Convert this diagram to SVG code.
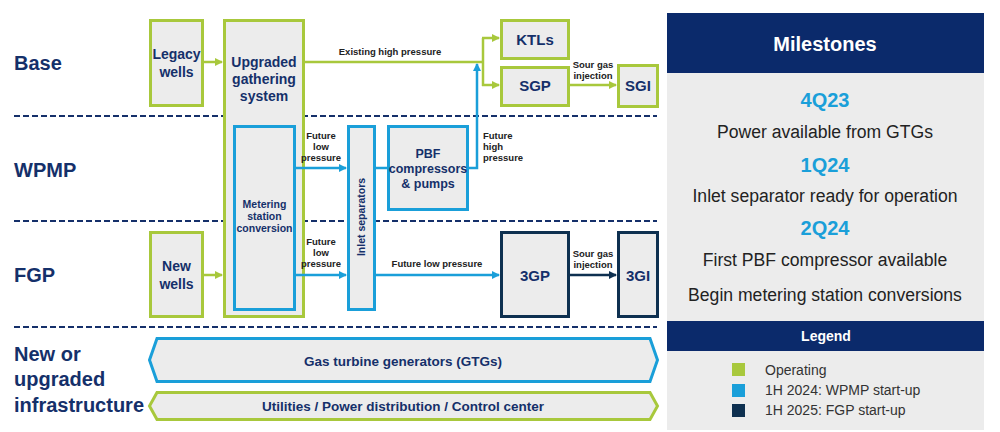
<svg xmlns="http://www.w3.org/2000/svg" width="1000" height="432" viewBox="0 0 1000 432">
<style>
text{font-family:"Liberation Sans",Arial,sans-serif}
.row{font-size:20px;font-weight:bold;fill:#15306a}
.nt{font-weight:bold;fill:#15306a;text-anchor:middle}
.lb{font-size:9.5px;font-weight:bold;fill:#222;text-anchor:middle}
.ls{font-size:9.5px;font-weight:bold;fill:#222}
.g{fill:#ececec;stroke:#a8c83c;stroke-width:3}
.b{fill:#ececec;stroke:#1a9fd9;stroke-width:3}
.d{fill:#ececec;stroke:#0e3050;stroke-width:3}
.sep{stroke:#15306a;stroke-width:2;stroke-dasharray:6 3;fill:none}
.cg{stroke:#a8c83c;stroke-width:2.5;fill:none}
.cb{stroke:#1a9fd9;stroke-width:2.5;fill:none}
.cd{stroke:#0e3050;stroke-width:2.5;fill:none}
.ms{font-size:20px;font-weight:bold;fill:#1a9fd9;text-anchor:middle}
.mt{font-size:17.6px;fill:#222;text-anchor:middle}
.lg{font-size:14px;fill:#333}
</style>
<defs>
<marker id="ag" markerWidth="8" markerHeight="8" refX="7" refY="4" orient="auto" markerUnits="userSpaceOnUse"><path d="M0,0 L8,4 L0,8 Z" fill="#a8c83c"/></marker>
<marker id="ab" markerWidth="8" markerHeight="8" refX="7" refY="4" orient="auto" markerUnits="userSpaceOnUse"><path d="M0,0 L8,4 L0,8 Z" fill="#1a9fd9"/></marker>
<marker id="ad" markerWidth="8" markerHeight="8" refX="7" refY="4" orient="auto" markerUnits="userSpaceOnUse"><path d="M0,0 L8,4 L0,8 Z" fill="#0e3050"/></marker>
</defs>
<rect width="1000" height="432" fill="#ffffff"/>

<g id="separators">
<line class="sep" x1="14" y1="116" x2="657" y2="116"/>
<line class="sep" x1="14" y1="221" x2="657" y2="221"/>
<line class="sep" x1="14" y1="327" x2="657" y2="327"/>
</g>

<g id="row-labels">
<text class="row" x="14" y="70">Base</text>
<text class="row" x="14" y="177">WPMP</text>
<text class="row" x="14" y="282">FGP</text>
<text class="row" x="14" y="361">New or</text>
<text class="row" x="14" y="386">upgraded</text>
<text class="row" x="14" y="412">infrastructure</text>
</g>

<g id="legacy-wells">
<rect class="g" x="150.5" y="20.5" width="52" height="85"/>
<text class="nt" font-size="14" x="176.5" y="59">Legacy</text>
<text class="nt" font-size="14" x="176.5" y="77">wells</text>
</g>

<g id="upgraded-gathering">
<rect class="g" x="224.5" y="20.5" width="79" height="296"/>
<text class="nt" font-size="14" x="264" y="67">Upgraded</text>
<text class="nt" font-size="14" x="264" y="84">gathering</text>
<text class="nt" font-size="14" x="264" y="101">system</text>
</g>

<g id="metering-station">
<rect class="b" x="234.5" y="126.5" width="60" height="183"/>
<text class="nt" font-size="10.5" x="264.5" y="208">Metering</text>
<text class="nt" font-size="10.5" x="264.5" y="220">station</text>
<text class="nt" font-size="10.5" x="264.5" y="232">conversion</text>
</g>

<g id="new-wells">
<rect class="g" x="150.5" y="232.5" width="52" height="84"/>
<text class="nt" font-size="14" x="176.5" y="271">New</text>
<text class="nt" font-size="14" x="176.5" y="289">wells</text>
</g>

<g id="inlet-separators">
<rect class="b" x="348.5" y="126.5" width="26" height="183"/>
<text class="nt" font-size="10.5" transform="translate(365,217) rotate(-90)">Inlet separators</text>
</g>

<g id="pbf">
<rect class="b" x="388.5" y="126.5" width="79" height="83"/>
<text class="nt" font-size="12.5" x="428" y="158">PBF</text>
<text class="nt" font-size="12.5" x="428" y="173">compressors</text>
<text class="nt" font-size="12.5" x="428" y="188">&amp; pumps</text>
</g>

<g id="ktls">
<rect class="g" x="501.5" y="20.5" width="67" height="38"/>
<text class="nt" font-size="15" x="535" y="45">KTLs</text>
</g>

<g id="sgp">
<rect class="g" x="501.5" y="67.5" width="67" height="38"/>
<text class="nt" font-size="15" x="535" y="91">SGP</text>
</g>

<g id="sgi">
<rect class="g" x="618.5" y="65.5" width="39" height="41"/>
<text class="nt" font-size="15" x="638" y="91">SGI</text>
</g>

<g id="3gp">
<rect class="d" x="501.5" y="232.5" width="67" height="84"/>
<text class="nt" font-size="15" x="535" y="281">3GP</text>
</g>

<g id="3gi">
<rect class="d" x="618.5" y="232.5" width="39" height="84"/>
<text class="nt" font-size="15" x="638" y="281">3GI</text>
</g>

<g id="gtg">
<path class="b" d="M157,338.5 L650,338.5 L657.5,360 L650,381.5 L157,381.5 L149.5,360 Z"/>
<text class="nt" font-size="13.5" x="403" y="366">Gas turbine generators (GTGs)</text>
</g>

<g id="utilities">
<path class="g" d="M157,392.5 L650,392.5 L657.5,406 L650,419.5 L157,419.5 L149.5,406 Z"/>
<text class="nt" font-size="13.5" x="403" y="411">Utilities / Power distribution / Control center</text>
</g>

<g id="connectors">
<line class="cg" x1="203" y1="62" x2="222" y2="62" marker-end="url(#ag)"/>
<line class="cg" x1="203" y1="275" x2="222" y2="275" marker-end="url(#ag)"/>
<line class="cg" x1="304" y1="62" x2="484" y2="62"/>
<line class="cg" x1="483" y1="38" x2="483" y2="86"/>
<line class="cg" x1="482" y1="38" x2="499" y2="38" marker-end="url(#ag)"/>
<line class="cg" x1="482" y1="85" x2="499" y2="85" marker-end="url(#ag)"/>
<line class="cg" x1="570" y1="85" x2="616" y2="85" marker-end="url(#ag)"/>
<polyline class="cb" points="468,168 477,168 477,64" marker-end="url(#ab)"/>
<line class="cb" x1="296" y1="168" x2="346" y2="168" marker-end="url(#ab)"/>
<line class="cb" x1="296" y1="275" x2="346" y2="275" marker-end="url(#ab)"/>
<line class="cb" x1="375" y1="168" x2="387" y2="168"/>
<line class="cb" x1="375" y1="275" x2="499" y2="275" marker-end="url(#ab)"/>
<line class="cd" x1="570" y1="275" x2="616" y2="275" marker-end="url(#ad)"/>
</g>

<g id="connector-labels">
<text class="lb" x="390" y="55">Existing high pressure</text>
<text class="lb" x="593" y="68">Sour gas</text>
<text class="lb" x="593" y="79">injection</text>
<text class="lb" x="321" y="139">Future</text>
<text class="lb" x="321" y="150">low</text>
<text class="lb" x="321" y="161">pressure</text>
<text class="ls" x="483" y="139">Future</text>
<text class="ls" x="483" y="150">high</text>
<text class="ls" x="483" y="161">pressure</text>
<text class="lb" x="321" y="245">Future</text>
<text class="lb" x="321" y="256">low</text>
<text class="lb" x="321" y="267">pressure</text>
<text class="lb" x="437" y="267">Future low pressure</text>
<text class="lb" x="593" y="257">Sour gas</text>
<text class="lb" x="593" y="268">injection</text>
</g>

<g id="milestones">
<rect x="667" y="73" width="317" height="357" fill="#ececec"/>
<rect x="667" y="13" width="317" height="60" fill="#0b2a6b"/>
<text x="825" y="51" font-size="20" font-weight="bold" fill="#ffffff" text-anchor="middle">Milestones</text>
<text class="ms" x="825" y="107">4Q23</text>
<text class="mt" x="825" y="138">Power available from GTGs</text>
<text class="ms" x="825" y="172">1Q24</text>
<text class="mt" x="825" y="202">Inlet separator ready for operation</text>
<text class="ms" x="825" y="235">2Q24</text>
<text class="mt" x="825" y="266">First PBF compressor available</text>
<text class="mt" x="825" y="301">Begin metering station conversions</text>
</g>

<g id="legend">
<rect x="667" y="321" width="317" height="30" fill="#0b2a6b"/>
<text x="826" y="341" font-size="14" font-weight="bold" fill="#ffffff" text-anchor="middle">Legend</text>
<rect x="732" y="363" width="13" height="13" fill="#a8c83c"/>
<rect x="732" y="384" width="13" height="13" fill="#1a9fd9"/>
<rect x="732" y="404" width="13" height="13" fill="#0e3050"/>
<text class="lg" x="765" y="375">Operating</text>
<text class="lg" x="765" y="395">1H 2024: WPMP start-up</text>
<text class="lg" x="765" y="415">1H 2025: FGP start-up</text>
</g>
</svg>
